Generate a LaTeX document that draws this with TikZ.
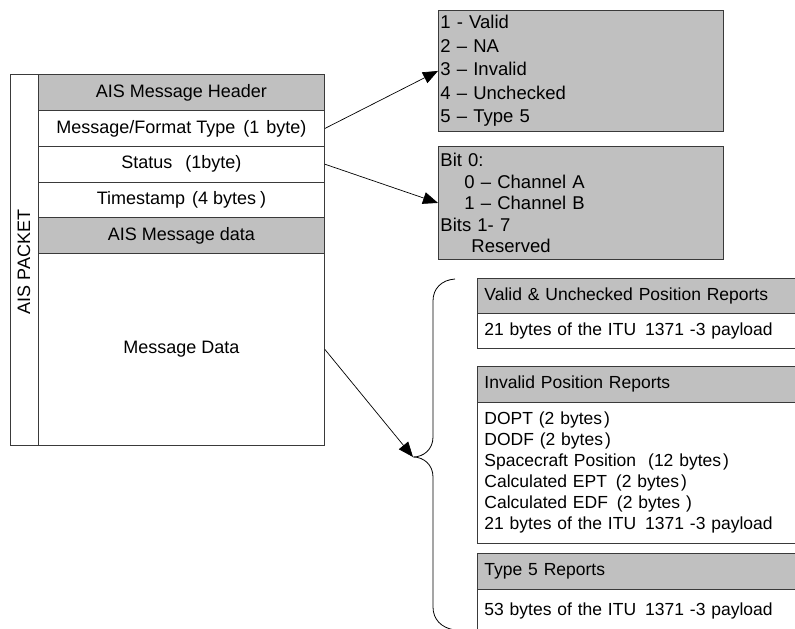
\documentclass[tikz,border=0pt]{standalone}
\usepackage{fontspec}
\setmainfont{Liberation Sans}
\usetikzlibrary{arrows.meta}
\definecolor{boxgrey}{HTML}{C0C0C0}
\definecolor{rule}{HTML}{3A3A3A}

\begin{document}
\begin{tikzpicture}[x=1pt,y=-1pt,
  cell/.style={draw=rule, line width=0.9pt, inner sep=0pt, anchor=north west,
    minimum width=286pt, font=\fontsize{18}{21}\selectfont},
  greycell/.style={cell, fill=boxgrey},
  infobox/.style={draw=rule, line width=0.9pt, fill=boxgrey, anchor=north west,
    inner xsep=2pt, inner ysep=0pt, text width=281pt, align=left},
  repbox/.style={draw=rule, line width=0.9pt, anchor=north west,
    inner xsep=7pt, inner ysep=0pt, text width=316pt, align=left,
    font=\fontsize{17.5}{21}\selectfont},
  rephdr/.style={repbox, fill=boxgrey},
  link/.style={draw=black, line width=0.7pt, -{Triangle[length=15pt,width=12pt]}},
]
\useasboundingbox (0,0) rectangle (795,629);
\clip (0,0) rectangle (795,629);

% packet layout
\draw[rule, line width=0.9pt] (10,74) rectangle (38,445);
\node[rotate=90, font=\fontsize{18}{21}\selectfont] (pktlabel) at (24,262) {AIS PACKET};
\node[greycell, minimum height=36pt] (hdr) at (38,74) {AIS Message Header};
\node[cell, minimum height=36pt] (fmt) at (38,110) {Message/Format Type\hspace{8pt}(1\hspace{7pt}byte)};
\node[cell, minimum height=35.5pt] (stat) at (38,146) {Status\hspace{13pt}(1byte)};
\node[cell, minimum height=35.5pt] (tstamp) at (38,181.5) {Timestamp\hspace{7pt}(4 bytes\hspace{4pt})};
\node[greycell, minimum height=36pt] (datahdr) at (38,217) {AIS Message data};
\node[cell, minimum height=192pt] (msgdata) at (38,253) {Message Data};

% field value tables
\node[infobox, minimum height=121pt, font=\fontsize{18.5}{23.5}\selectfont] (types) at (438,10)
  {1 - Valid\\2 -- NA\\3 -- Invalid\\4 -- Unchecked\\5 -- Type 5};
\node[infobox, minimum height=113pt, font=\fontsize{18.5}{21.5}\selectfont] (chan) at (438,146)
  {Bit 0:\\\hspace*{24pt}0 -- Channel A\\\hspace*{24pt}1 -- Channel B\\Bits 1- 7\\\hspace*{31pt}Reserved};

% message data variants
\node[rephdr, minimum height=35pt] (vhdr) at (477,278) {Valid \& Unchecked Position Reports};
\node[repbox, minimum height=35pt] (vbody) at (477,313) {21 bytes of the ITU\hspace{9pt}1371 -3 payload};
\node[rephdr, minimum height=36pt] (ihdr) at (477,366) {Invalid Position Reports};
\node[repbox, minimum height=141pt] (ibody) at (477,402)
  {DOPT (2 bytes\hspace{2pt})\\DODF (2 bytes\hspace{2pt})\\Spacecraft Position\hspace{12pt}(12 bytes\hspace{2pt})\\Calculated EPT\hspace{9pt}(2 bytes\hspace{2pt})\\Calculated EDF\hspace{9pt}(2 bytes )\\21 bytes of the ITU\hspace{9pt}1371 -3 payload};
\node[rephdr, minimum height=36pt] (thdr) at (477,553) {Type 5 Reports};
\node[repbox, minimum height=44pt] (tbody) at (477,589) {\raisebox{4pt}{53 bytes of the ITU\hspace{9pt}1371 -3 payload}};

% brace grouping the variants
\coordinate (tip) at (413,457);
\draw[black, line width=0.8pt] (455,279) .. controls (441,280) and (433,289) .. (433,301)
  -- (433,437) .. controls (433,449) and (424,457) .. (tip)
  .. controls (424,457) and (433,465) .. (433,477)
  -- (433,607) .. controls (433,619) and (441,628) .. (455,630);

% connectors
\draw[link] (fmt.east) -- (types.west);
\draw[link] (stat.east) -- (chan.west);
\draw[link] (msgdata.east) -- (tip);
\end{tikzpicture}
\end{document}
